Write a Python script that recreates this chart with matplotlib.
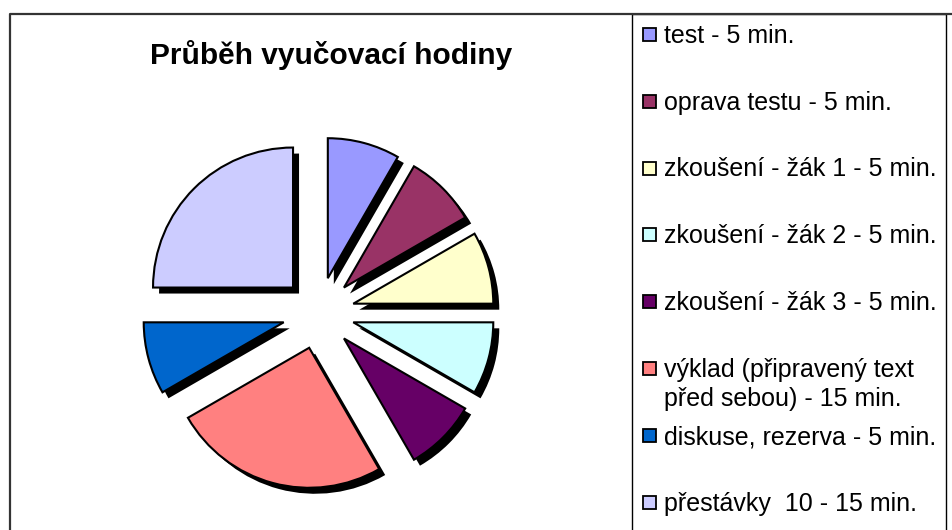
import matplotlib.pyplot as plt
from matplotlib.patches import Rectangle
from matplotlib.lines import Line2D

plt.rcParams['font.family'] = ['Liberation Sans', 'DejaVu Sans']

# data
labels = [
    "test - 5 min.",
    "oprava testu - 5 min.",
    "zkoušení - žák 1 - 5 min.",
    "zkoušení - žák 2 - 5 min.",
    "zkoušení - žák 3 - 5 min.",
    "výklad (připravený text\npřed sebou) - 15 min.",
    "diskuse, rezerva - 5 min.",
    "přestávky  10 - 15 min.",
]
minutes = [5, 5, 5, 5, 5, 15, 5, 15]
colors = ["#9999FF", "#993366", "#FFFFCC", "#CCFFFF",
          "#660066", "#FF8080", "#0066CC", "#CCCCFF"]
title = "Průběh vyučovací hodiny"

W, H = 952, 530
fig = plt.figure(figsize=(W / 100, H / 100), dpi=100)


def fx(x):
    return x / W


def fy(y):
    return 1 - y / H


# pie (pixel layout: centre, radius, explode distance, shadow offset)
cx, cy, half = 318.5, 313, 200
r_px, expl_px, shad_px = 140, 36, 6
ax = fig.add_axes([fx(cx - half), fy(cy + half), 2 * half / W, 2 * half / H])
explode = [expl_px / r_px] * len(minutes)
s = shad_px / r_px
ax.pie(minutes, colors=["black"] * len(minutes), explode=explode,
       startangle=90, counterclock=False, center=(s, -s),
       wedgeprops=dict(linewidth=0))
ax.pie(minutes, colors=colors, explode=explode,
       startangle=90, counterclock=False,
       wedgeprops=dict(edgecolor="black", linewidth=1.5))
lim = half / r_px
ax.set_xlim(-lim, lim)
ax.set_ylim(-lim, lim)
ax.set_aspect("equal")
ax.axis("off")

# title
fig.text(fx(331.5), fy(64), title, ha="center", va="baseline",
         fontsize=21.5, fontweight="bold")

# frames
fig.add_artist(Line2D([fx(10), fx(10), fx(952)], [fy(540), fy(14), fy(14)],
                      transform=fig.transFigure, color="#333333", lw=1.6))
fig.add_artist(Rectangle((fx(632), fy(540)), (946 - 632) / W, (540 - 14) / H,
                         transform=fig.transFigure, facecolor="none",
                         edgecolor="black", lw=1.0))

# legend
first_base, step, line_gap = 42.7, 66.9, 29
for i, (lab, col) in enumerate(zip(labels, colors)):
    base = first_base + i * step
    fig.add_artist(Rectangle((fx(642.5), fy(base - 2)), 13 / W, 13 / H,
                             transform=fig.transFigure, facecolor=col,
                             edgecolor="black", lw=1.3))
    for k, part in enumerate(lab.split("\n")):
        fig.text(fx(664), fy(base + k * line_gap), part, ha="left",
                 va="baseline", fontsize=18)

fig.savefig("out.png", dpi=100)
